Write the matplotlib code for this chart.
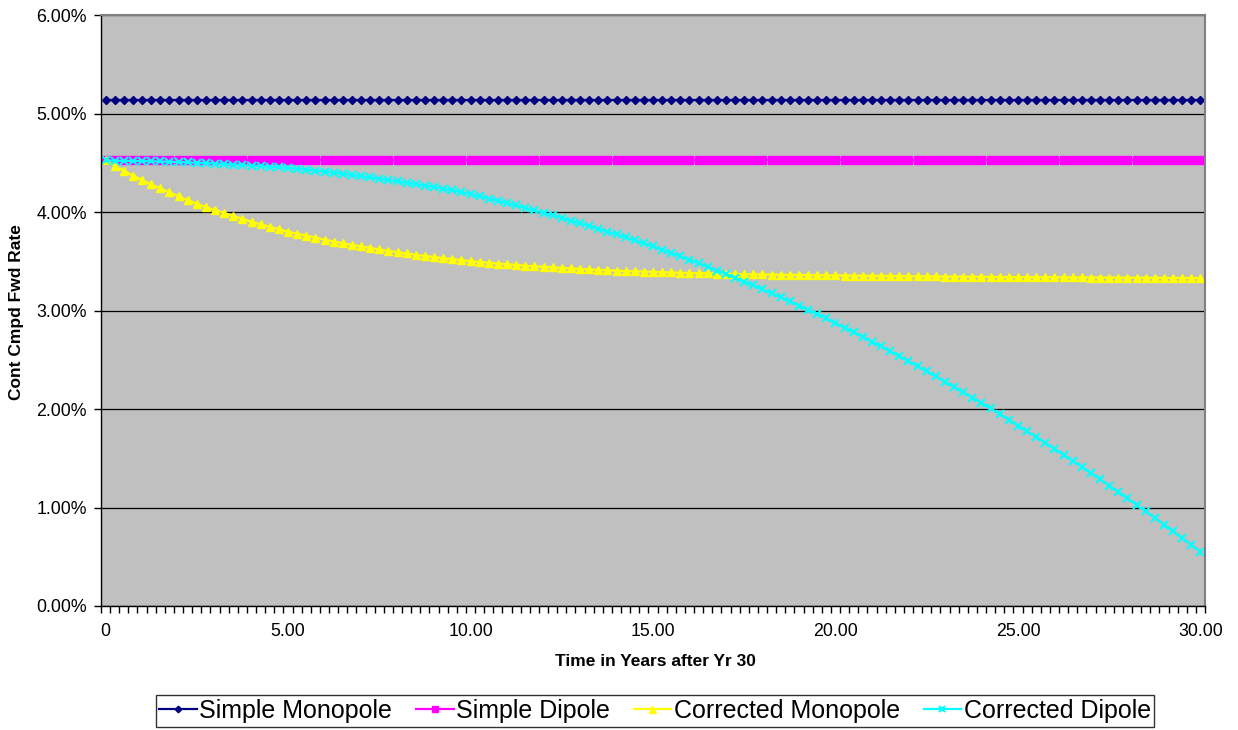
import numpy as np
import matplotlib
matplotlib.use("Agg")
import matplotlib.pyplot as plt
from matplotlib.ticker import FuncFormatter

plt.rcParams['font.family'] = ['Liberation Sans', 'DejaVu Sans']

# ---- data (percent units) ----
n_points = 121
years = np.arange(n_points) * 0.25  # category axis, 0.25-year steps

simple_monopole = [5.14] * n_points
simple_dipole = [4.525] * n_points

corrected_monopole = [
    4.525, 4.47, 4.42, 4.37, 4.325, 4.28, 4.24, 4.20, 4.16, 4.12,
    4.085, 4.05, 4.02, 3.99, 3.96, 3.93, 3.90, 3.875, 3.85, 3.825,
    3.80, 3.78, 3.76, 3.74, 3.72, 3.70, 3.683, 3.666, 3.65, 3.635,
    3.62, 3.605, 3.592, 3.579, 3.566, 3.554, 3.543, 3.532, 3.521, 3.511,
    3.502, 3.493, 3.485, 3.477, 3.469, 3.462, 3.455, 3.449, 3.443, 3.437,
    3.432, 3.427, 3.422, 3.417, 3.413, 3.409, 3.405, 3.401, 3.398, 3.395,
    3.392, 3.389, 3.386, 3.384, 3.381, 3.379, 3.377, 3.375, 3.373, 3.371,
    3.369, 3.368, 3.366, 3.365, 3.363, 3.362, 3.361, 3.359, 3.358, 3.357,
    3.356, 3.355, 3.354, 3.353, 3.352, 3.351, 3.350, 3.349, 3.348, 3.347,
    3.346, 3.346, 3.345, 3.344, 3.343, 3.343, 3.342, 3.341, 3.341, 3.340,
    3.339, 3.339, 3.338, 3.338, 3.337, 3.337, 3.336, 3.336, 3.335, 3.335,
    3.334, 3.334, 3.333, 3.333, 3.332, 3.332, 3.331, 3.331, 3.330, 3.330,
    3.329,
]

corrected_dipole = [
    4.525, 4.520, 4.519, 4.518, 4.517, 4.515, 4.513, 4.510, 4.507, 4.504,
    4.500, 4.496, 4.492, 4.487, 4.482, 4.477, 4.472, 4.466, 4.460, 4.454,
    4.448, 4.440, 4.431, 4.421, 4.411, 4.400, 4.388, 4.376, 4.364, 4.351,
    4.338, 4.325, 4.311, 4.297, 4.282, 4.267, 4.252, 4.236, 4.220, 4.203,
    4.180, 4.158, 4.136, 4.113, 4.090, 4.066, 4.042, 4.017, 3.992, 3.966,
    3.940, 3.913, 3.886, 3.858, 3.830, 3.801, 3.772, 3.742, 3.712, 3.681,
    3.650, 3.617, 3.584, 3.550, 3.515, 3.479, 3.443, 3.406, 3.369, 3.331,
    3.293, 3.254, 3.214, 3.174, 3.133, 3.092, 3.050, 3.007, 2.964, 2.920,
    2.870, 2.825, 2.779, 2.732, 2.684, 2.635, 2.586, 2.536, 2.485, 2.434,
    2.382, 2.330, 2.277, 2.223, 2.170, 2.116, 2.062, 2.006, 1.949, 1.891,
    1.832, 1.774, 1.716, 1.656, 1.596, 1.535, 1.474, 1.412, 1.349, 1.286,
    1.222, 1.158, 1.093, 1.027, 0.961, 0.894, 0.827, 0.759, 0.690, 0.621,
    0.552,
]

label_positions = [0, 20, 40, 60, 80, 100, 120]
label_texts = ["0", "5.00", "10.00", "15.00", "20.00", "25.00", "30.00"]

series_names = ["Simple Monopole", "Simple Dipole", "Corrected Monopole", "Corrected Dipole"]

# ---- figure ----
W, H = 1238, 730
fig = plt.figure(figsize=(W / 100, H / 100), dpi=100)
L, R, T, B = 101, 1205, 15, 606
ax = fig.add_axes([L / W, 1 - B / H, (R - L) / W, (B - T) / H])
ax.set_facecolor("#C0C0C0")

idx = np.arange(n_points)
styles = [
    dict(color="#000080", marker="D", markersize=4.2),
    dict(color="#FF00FF", marker="s", markersize=5.2),
    dict(color="#FFFF00", marker="^", markersize=6.3),
    dict(color="#00FFFF", marker="x", markersize=5.5, markeredgewidth=1.5),
]
data = [simple_monopole, simple_dipole, corrected_monopole, corrected_dipole]
handles = []
for name, vals, st in zip(series_names, data, styles):
    h, = ax.plot(idx, vals, linewidth=1.6, label=name, clip_on=False, **st)
    handles.append(h)

ax.set_xlim(-0.5, n_points - 0.5)
ax.set_ylim(0, 6)

# y axis
ax.set_yticks(np.arange(0, 7, 1))
ax.yaxis.set_major_formatter(FuncFormatter(lambda v, p: f"{v:.2f}%"))
ax.tick_params(axis="y", direction="out", length=5, width=1, pad=5, labelsize=12.8, colors="black")
ax.grid(axis="y", color="black", linewidth=0.9)
ax.set_axisbelow(True)

# x axis: tick marks at category boundaries, labels centered on categories
ax.set_xticks(np.arange(-0.5, n_points, 1))
ax.set_xticklabels([])
ax.tick_params(axis="x", which="major", direction="out", length=5, width=1)
ax.set_xticks(label_positions, minor=True)
ax.set_xticklabels(label_texts, minor=True)
ax.tick_params(axis="x", which="minor", length=0, pad=12, labelsize=12.8)

for side in ["left", "bottom"]:
    ax.spines[side].set_color("black")
    ax.spines[side].set_linewidth(1.0)
for side in ["top", "right"]:
    ax.spines[side].set_color("#808080")
    ax.spines[side].set_linewidth(1.5)

fig.text(17 / W, 1 - 312 / H, "Cont Cmpd Fwd Rate", rotation=90, ha="center", va="center",
         fontsize=12.5, fontweight="bold")
fig.text(655 / W, 1 - 662 / H, "Time in Years after Yr 30", ha="center", va="center",
         fontsize=12.5, fontweight="bold")

leg = fig.legend(handles=handles, loc="center", bbox_to_anchor=(655 / W, 1 - 711 / H),
                 ncol=4, fontsize=18, frameon=True, fancybox=False, handlelength=1.5,
                 handletextpad=0.1, columnspacing=0.95, borderpad=0.15, borderaxespad=0,
                 markerscale=0.8)
leg.get_frame().set_edgecolor("black")
leg.get_frame().set_linewidth(1.0)

fig.savefig("out.png", dpi=100)
